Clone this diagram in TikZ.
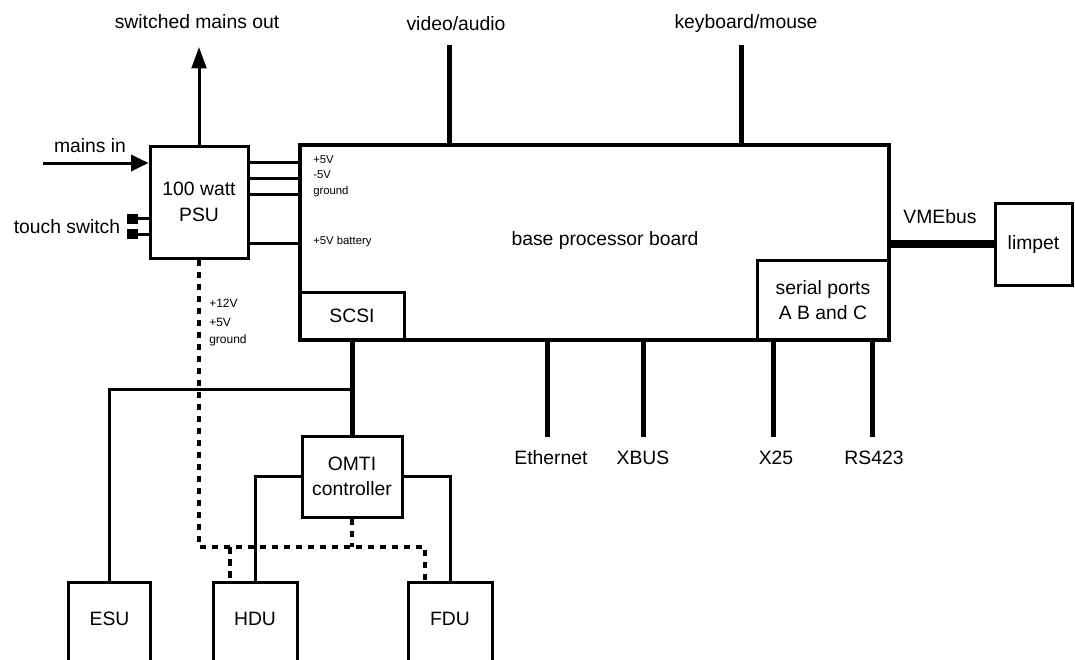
\documentclass[tikz,border=0pt]{standalone}
\usepackage{fontspec}
\setmainfont{Liberation Sans}
\usetikzlibrary{arrows.meta}
\begin{document}
\begin{tikzpicture}[x=0.75pt,y=-0.75pt,
  box/.style={draw, line width=2.25pt, inner sep=0pt, align=center, font=\fontsize{14.5}{19}\selectfont},
  lbl/.style={inner sep=0pt, align=center, font=\fontsize{14.5}{19}\selectfont},
  small/.style={inner sep=0pt, anchor=west, font=\fontsize{8.5}{10}\selectfont},
  smallb/.style={inner sep=0pt, anchor=west, font=\fontsize{9}{10}\selectfont},
  wire/.style={line width=2.25pt},
  bus/.style={line width=3.75pt},
  pwr/.style={line width=2.6pt, dash pattern=on 5pt off 4pt},
  sq/.style={fill, inner sep=0pt, minimum width=8.25pt, minimum height=7.5pt},
  arr/.style={-{Triangle[length=13pt,width=12pt]}},
  arrup/.style={-{Triangle[length=16pt,width=11pt]}}
]
\useasboundingbox (0,0) rectangle (1075,660);
\clip (0,0) rectangle (1075,660);

% boxes
\node[box, minimum width=73.5pt, minimum height=84pt] (psu) at (199,202) {100 watt\\PSU};
\node[box, line width=3pt, minimum width=441.75pt, minimum height=146.25pt] (board) at (594.5,242.5) {};
\node[lbl] (boardt) at (605,240) {base processor board};
\node[box, minimum width=78pt, minimum height=36pt] (scsi) at (352,316) {SCSI};
\node[box, minimum width=99pt, minimum height=60pt] (serial) at (823,300) {serial ports\\A B and C};
\node[box, minimum width=57.75pt, minimum height=61.5pt] (limpet) at (1033.5,244) {limpet};
\node[box, minimum width=75pt, minimum height=60.75pt] (omti) at (352,476.5) {OMTI\\controller};
\node[box, minimum width=61.5pt, minimum height=75pt, anchor=north] (esu) at (109.5,581) {};
\node[box, minimum width=63pt, minimum height=75pt, anchor=north] (hdu) at (255,581) {};
\node[box, minimum width=63pt, minimum height=75pt, anchor=north] (fdu) at (450,581) {};
\node[lbl] (esut) at (109.5,619) {ESU};
\node[lbl] (hdut) at (255,619) {HDU};
\node[lbl] (fdut) at (450,619) {FDU};

% switches
\node[sq] (sw1) at (132.5,218.5) {};
\node[sq] (sw2) at (132.5,234) {};
\draw[wire] (sw1.east) -- (sw1.east -| psu.west);
\draw[wire] (sw2.east) -- (sw2.east -| psu.west);
\node[lbl] (ts) at (67,227) {touch switch};

% mains
\coordinate (min) at (43,163);
\draw[wire, arr] (min) -- (min -| psu.west);
\node[lbl] (mainsin) at (90,146) {mains in};
\coordinate (smo) at (199,47);
\draw[wire, arrup] (psu.north) -- (smo);
\node[lbl] (smot) at (197,22) {switched mains out};

% PSU to board supply lines
\coordinate (l1) at (270,162);
\coordinate (l2) at (270,178);
\coordinate (l3) at (270,194);
\coordinate (l4) at (270,243);
\foreach \c in {l1,l2,l3,l4} { \draw[wire] (psu.east |- \c) -- (board.west |- \c); }
\node[small] (t1) at (313,160) {+5V};
\node[small] (t2) at (313,175) {-5V};
\node[small] (t3) at (313,192) {ground};
\node[small] (t4) at (313,242) {+5V battery};

% top connections
\coordinate (va) at (449,45);
\coordinate (km) at (741,45);
\draw[bus] (va) -- (va |- board.north);
\draw[bus] (km) -- (km |- board.north);
\node[lbl] (vat) at (456,24) {video/audio};
\node[lbl] (kmt) at (746,24) {keyboard/mouse};

% VMEbus
\draw[line width=6pt] (limpet.west -| board.east) -- (limpet.west);
\node[lbl] (vme) at (940,217) {VMEbus};

% bottom ports
\coordinate (eth) at (547,437);
\coordinate (xb) at (643,437);
\coordinate (x25) at (773,437);
\coordinate (rs) at (872,437);
\foreach \c in {eth,xb,x25,rs} { \draw[bus] (\c |- board.south) -- (\c); }
\node[lbl] (etht) at (551,458) {Ethernet};
\node[lbl] (xbt) at (643,458) {XBUS};
\node[lbl] (x25t) at (776,458) {X25};
\node[lbl] (rst) at (874,458) {RS423};

% SCSI chain
\coordinate (j1) at (352,389);
\draw[bus] (scsi.south) -- (omti.north);
\draw[wire] (j1) -| (esu.north);
\draw[wire] (omti.west) -| (hdu.north);
\draw[wire] (omti.east) -| (fdu.north);

% power to drives (dashed)
\coordinate (d1) at (199,547);
\coordinate (d2) at (425,547);
\coordinate (d3) at (230,547);
\draw[pwr] (psu.south) -- (d1) -- (d2) -- (d2 |- fdu.north);
\draw[pwr] (d3) -- (d3 |- hdu.north);
\draw[pwr] (omti.south) -- (omti.south |- d1);
\node[smallb] (p1) at (209,303) {+12V};
\node[smallb] (p2) at (209,322) {+5V};
\node[smallb] (p3) at (209,340) {ground};
\end{tikzpicture}
\end{document}
